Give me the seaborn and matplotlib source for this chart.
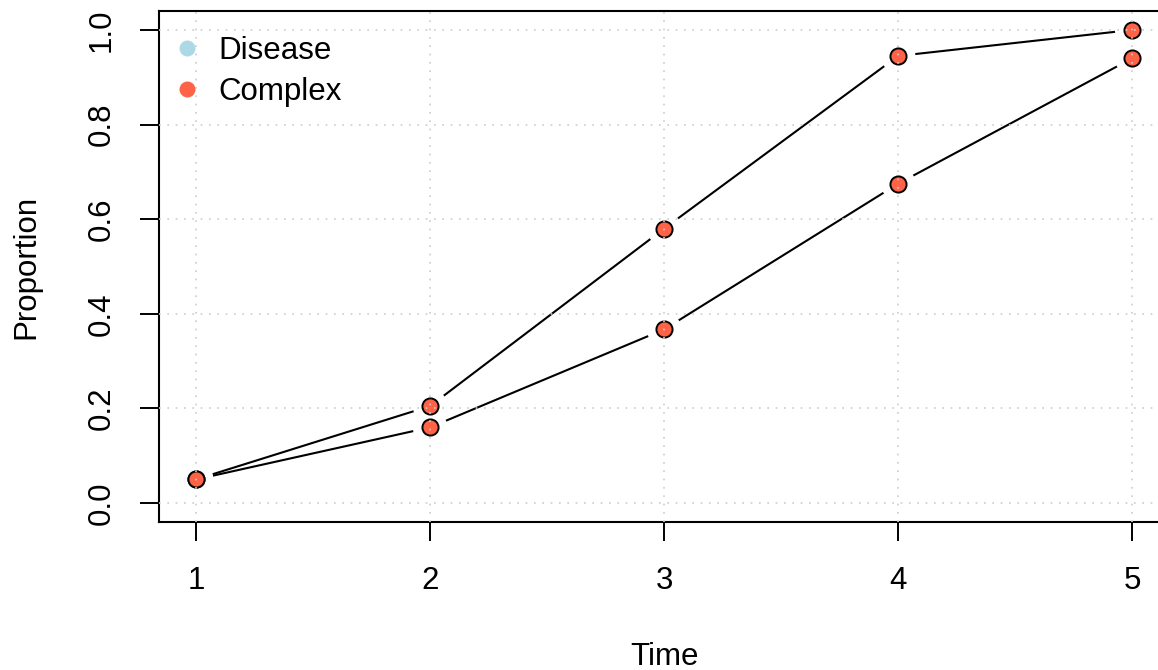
import matplotlib
matplotlib.use("Agg")
import matplotlib.pyplot as plt
from matplotlib.lines import Line2D
import seaborn as sns
import pandas as pd

# data
time = [1, 2, 3, 4, 5]
disease = [0.05, 0.205, 0.58, 0.945, 1.0]
complex_ = [0.05, 0.16, 0.367, 0.675, 0.94]
x_ticks = [1, 2, 3, 4, 5]
y_ticks = [0.0, 0.2, 0.4, 0.6, 0.8, 1.0]
legend_labels = ["Disease", "Complex"]
legend_colors = ["#ADD8E6", "#FF6347"]

df = pd.DataFrame({
    "Time": time * 2,
    "Proportion": disease + complex_,
    "group": ["Disease"] * len(time) + ["Complex"] * len(time),
})

sns.set_style("white")
plt.rcParams["font.family"] = ["Liberation Sans", "DejaVu Sans"]
plt.rcParams["text.color"] = "black"
plt.rcParams["axes.labelcolor"] = "black"
plt.rcParams["xtick.color"] = "black"
plt.rcParams["ytick.color"] = "black"

fig = plt.figure(figsize=(11.58, 6.70), dpi=100)
ax = fig.add_axes([158.6 / 1158, 148 / 670, 1011 / 1158, 511 / 670])

# lines (R type="b": gaps around the points, done with a white halo)
sns.lineplot(data=df, x="Time", y="Proportion", units="group", estimator=None,
             color="black", lw=1.5, ax=ax, zorder=2, legend=False)
sns.scatterplot(data=df, x="Time", y="Proportion", s=620, color="white",
                edgecolor="none", ax=ax, zorder=3, legend=False)
sns.scatterplot(data=df, x="Time", y="Proportion", s=135, color="#FF6347",
                edgecolor="black", linewidth=1.4, ax=ax, zorder=4, legend=False)

ax.set_xlim(0.84, 5.16)
ax.set_ylim(-0.04, 1.04)
ax.set_xticks(x_ticks)
ax.set_yticks(y_ticks)
ax.set_xticklabels([str(t) for t in x_ticks], fontsize=22.5)
ax.set_yticklabels([f"{v:.1f}" for v in y_ticks], fontsize=22.5,
                   rotation=90, va="center")

# dotted grid drawn over the points, as in the original
ax.grid(True, color="#CCCCCC", linestyle=(0, (1, 4)), linewidth=1.2)
ax.xaxis.set_zorder(5)
ax.yaxis.set_zorder(5)

ax.tick_params(axis="both", direction="out", length=14, width=1.4,
               color="black", labelcolor="black", left=True, bottom=True)
ax.tick_params(axis="x", pad=18)
ax.tick_params(axis="y", pad=16)
for s in ax.spines.values():
    s.set_visible(True)
    s.set_color("black")
    s.set_linewidth(1.5)

ax.set_xlabel("Time", fontsize=22.5, labelpad=33)
ax.set_ylabel("Proportion", fontsize=22.5, labelpad=33)

handles = [Line2D([], [], marker="o", linestyle="none", markersize=11.5,
                  markerfacecolor=c, markeredgecolor="none")
           for c in legend_colors]
ax.legend(handles, legend_labels, loc="upper left", frameon=False,
          fontsize=22.5, handletextpad=0.4, labelspacing=0.33,
          borderaxespad=0.0, bbox_to_anchor=(-0.003, 0.975), handlelength=1.2)

fig.savefig("out.png", dpi=100)
